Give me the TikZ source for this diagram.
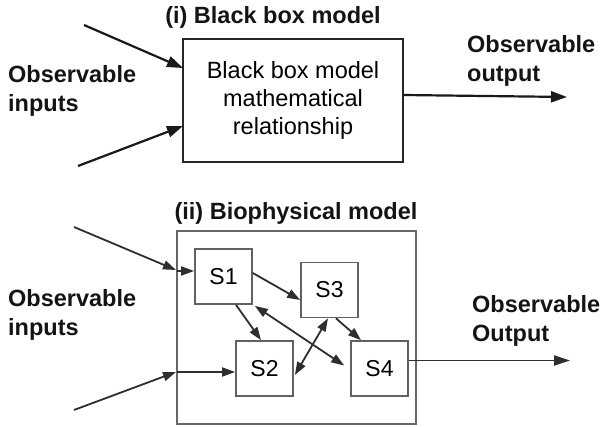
\documentclass[tikz,border=0pt]{standalone}
\usepackage{fontspec}
\setmainfont{Liberation Sans}
\usetikzlibrary{arrows.meta}
\newcommand{\twolines}[2]{\begin{tabular}[t]{@{}l@{}}#1\\#2\end{tabular}}
\begin{document}
\begin{tikzpicture}[x=1pt,y=-1pt,
  lbl/.style={inner sep=0pt, font=\fontsize{23.5}{28.5}\selectfont\bfseries, anchor=base west, text=black!92},
  bigbox/.style={draw=black!85, line width=1.8pt, inner sep=0pt},
  outerbox/.style={draw=black!60, line width=1.7pt, inner sep=0pt},
  sbox/.style={draw=black!62, line width=1.7pt, minimum width=57pt, minimum height=55pt, inner sep=0pt, font=\fontsize{23}{27}\selectfont},
  arr/.style={line width=2.2pt, draw=black!90, -{Triangle[length=16pt,width=11pt]}},
  sarr/.style={line width=1.8pt, draw=black!82, -{Triangle[length=13pt,width=9pt]}},
  sdarr/.style={line width=1.8pt, draw=black!82, {Triangle[length=13pt,width=9pt]}-{Triangle[length=13pt,width=9pt]}},
  ]
\useasboundingbox (0,0) rectangle (602,427);

% ---------- (i) Black box model ----------
\node[lbl, anchor=base] (t1) at (273,24) {(i) Black box model};
\node[bigbox, minimum width=220pt, minimum height=123pt, align=center,
      font=\fontsize{23.5}{28}\selectfont] (bb) at (293,100.5)
      {Black box model\\mathematical\\relationship};
\node[lbl] (inA) at (8,83) {\twolines{Observable}{inputs}};
\node[lbl] (outA) at (467,53) {\twolines{Observable}{output}};

\coordinate (a1) at (84,25);
\coordinate (a1e) at (183,68);
\coordinate (a2) at (78,166);
\coordinate (a2e) at (183,126);
\coordinate (ao) at (403,95);
\coordinate (aoe) at (567,97);
\draw[arr] (a1) -- (a1e);
\draw[arr] (a2) -- (a2e);
\draw[arr] (ao) -- (aoe);

% ---------- (ii) Biophysical model ----------
\node[lbl, anchor=base] (t2) at (296,220) {(ii) Biophysical model};
\node[outerbox, minimum width=239pt, minimum height=193pt] (ob) at (296.5,327.5) {};
\node[sbox] (S1) at (223.5,276.5) {S1};
\node[sbox] (S3) at (329.5,290) {S3};
\node[sbox] (S2) at (264.5,368.5) {S2};
\node[sbox] (S4) at (379.5,368.5) {S4};
\node[lbl] (inB) at (8,307) {\twolines{Observable}{inputs}};
\node[lbl] (outB) at (472,313) {\twolines{Observable}{Output}};

\coordinate (b1) at (74,227);
\coordinate (b1e) at (176,270);
\coordinate (b1i) at (177,271);
\coordinate (b2) at (74,410);
\coordinate (b2e) at (176,372);
\coordinate (b2i) at (177,372);
\coordinate (bo) at (570,360.5);

\draw[sarr] (b1) -- (b1e);
\draw[sarr] (b1i) -- (S1.west |- b1i);
\draw[sarr] (b2) -- (b2e);
\draw[sarr] (b2i) -- (S2.west |- b2i);

\draw[sarr] ([yshift=3.5pt]S1.east) -- ([yshift=-10pt]S3.west);
\draw[sarr] ([xshift=12.5pt]S1.south) -- ([xshift=-3.5pt]S2.north);
\draw[sdarr] ([xshift=2pt,yshift=-1pt]S1.south east) -- ([xshift=-6pt,yshift=3pt]S4.west);
\draw[sdarr] ([xshift=1pt,yshift=-6.5pt]S2.east) -- ([xshift=-1.5pt]S3.south);
\draw[sarr] ([xshift=6.5pt]S3.south) -- ([xshift=-18.5pt]S4.north);
\draw[sarr, -{Triangle[length=16pt,width=10pt]}] ([yshift=8pt]S4.east) -- (bo);
\end{tikzpicture}
\end{document}
